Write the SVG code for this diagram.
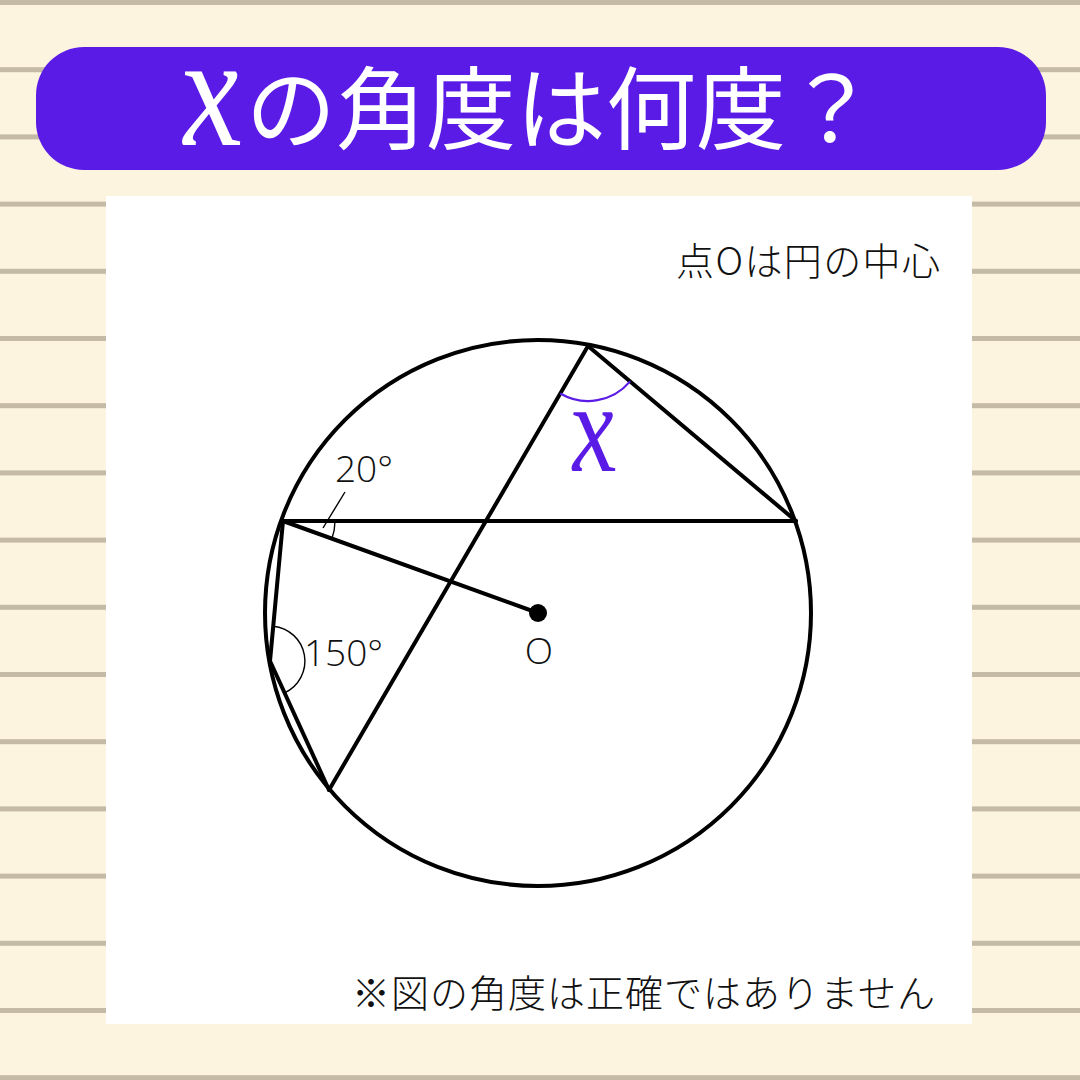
<svg xmlns="http://www.w3.org/2000/svg" width="1080" height="1080" viewBox="0 0 1080 1080">
<style>
.rule{fill:#c4baa5}
.ln{stroke:#000;stroke-width:4;fill:none;stroke-linecap:round;stroke-linejoin:round}
.thin{stroke:#000;stroke-width:1.4;fill:none}
.jp{font-family:"Noto Sans CJK JP","Noto Sans",sans-serif;font-weight:300;fill:#111}
.num{font-family:"Open Sans","Noto Sans",sans-serif;font-weight:300;font-size:37px;fill:#111}
.chi{font-family:"Liberation Serif",serif;font-style:italic}
</style>
<rect width="1080" height="1080" fill="#fdf4e0"/>
<g id="rules">
<rect class="rule" x="0" y="0" width="1080" height="5"/>
<rect class="rule" x="0" y="67.2" width="1080" height="5"/>
<rect class="rule" x="0" y="134.4" width="1080" height="5"/>
<rect class="rule" x="0" y="201.6" width="1080" height="5"/>
<rect class="rule" x="0" y="268.8" width="1080" height="5"/>
<rect class="rule" x="0" y="336" width="1080" height="5"/>
<rect class="rule" x="0" y="403.2" width="1080" height="5"/>
<rect class="rule" x="0" y="470.4" width="1080" height="5"/>
<rect class="rule" x="0" y="537.6" width="1080" height="5"/>
<rect class="rule" x="0" y="604.8" width="1080" height="5"/>
<rect class="rule" x="0" y="672" width="1080" height="5"/>
<rect class="rule" x="0" y="739.2" width="1080" height="5"/>
<rect class="rule" x="0" y="806.4" width="1080" height="5"/>
<rect class="rule" x="0" y="873.6" width="1080" height="5"/>
<rect class="rule" x="0" y="940.8" width="1080" height="5"/>
<rect class="rule" x="0" y="1008" width="1080" height="5"/>
<rect class="rule" x="0" y="1075.2" width="1080" height="5"/>
</g>
<g id="title">
<rect x="36" y="47" width="1010" height="123" rx="48" ry="48" fill="#5b1be6"/>
<text class="chi" transform="translate(184,145) skewX(5) scale(0.85,1)" font-size="160" fill="#fff">x</text>
<text x="246" y="142" font-family="'Noto Sans CJK JP','Noto Sans',sans-serif" font-size="90" fill="#fff">の角度は何度？</text>
</g>
<rect id="panel" x="106" y="196" width="866" height="828" fill="#fff"/>
<text id="note-top" class="jp" x="676" y="275" font-size="38" textLength="264" lengthAdjust="spacing">点Oは円の中心</text>
<text id="note-bottom" class="jp" x="352" y="1007" font-size="38" textLength="583" lengthAdjust="spacing">※図の角度は正確ではありません</text>
<g id="circle">
<circle cx="538" cy="613" r="273" class="ln"/>
</g>
<g id="connectors">
<line class="ln" x1="588" y1="346" x2="329" y2="790"/>
<line class="ln" x1="588" y1="346" x2="796" y2="521"/>
<line class="ln" x1="283" y1="521" x2="796" y2="521"/>
<line class="ln" x1="283" y1="521" x2="538" y2="613"/>
<line class="ln" x1="283" y1="521" x2="270" y2="661"/>
<line class="ln" x1="270" y1="661" x2="329" y2="790"/>
</g>
<g id="center-O">
<circle cx="538" cy="613" r="9" fill="#000"/>
<text class="num" x="539" y="664" text-anchor="middle">O</text>
</g>
<g id="angle-x">
<path d="M560.3,393.5 A55,55 0 0 0 630.1,381.4" fill="none" stroke="#5b1be6" stroke-width="2.2"/>
<text class="chi" transform="translate(573,471) skewX(5) scale(0.8,1)" font-size="128" fill="#5b1be6">x</text>
</g>
<g id="angle-20">
<path class="thin" d="M335,521 A52,52 0 0 1 331.9,538.7"/>
<line class="thin" x1="323" y1="528" x2="345" y2="492"/>
<text class="num" x="335" y="482">20°</text>
</g>
<g id="angle-150">
<path class="thin" d="M273.2,626.2 A35,35 0 0 1 284.6,692.8"/>
<text class="num" x="304" y="666">150°</text>
</g>
</svg>
